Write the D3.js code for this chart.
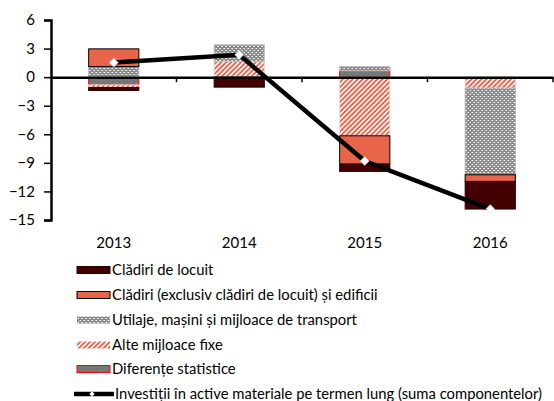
<!DOCTYPE html>
<html><head><meta charset="utf-8">
<script src="https://cdn.jsdelivr.net/npm/d3@7"></script>
<style>body{margin:0;background:#fff}svg{display:block}text{font-family:Lato,sans-serif;fill:#000}</style>
</head><body><svg id="c" width="554" height="401"></svg>
<script>
const years = ["2013","2014","2015","2016"];
const locuit = [-0.31, -1.05, -0.77, -2.9];
const cladiri = [1.86, 0, -2.97, -0.7];
const utilaje = [1.11, 1.75, 0.45, -9.1];
const alte = [-0.28, 1.64, -6.16, -1.15];
const diferente = [-0.81, 0, 0.66, 0];
const total = [1.53, 2.34, -8.81, -13.85];
const yTicks = [6,3,0,-3,-6,-9,-12,-15];
const legendLabels = ["Clădiri de locuit","Clădiri (exclusiv clădiri de locuit) și edificii","Utilaje, mașini și mijloace de transport","Alte mijloace fixe","Diferențe statistice","Investiții în active materiale pe termen lung (suma componentelor)"];

const svg = d3.select("#c");
const defs = svg.append("defs");
const pc = defs.append("pattern").attr("id","chk").attr("patternUnits","userSpaceOnUse").attr("width",4).attr("height",4);
pc.append("rect").attr("width",4).attr("height",4).attr("fill","#8a8a8a");
pc.append("rect").attr("x",0).attr("y",0).attr("width",1).attr("height",1).attr("fill","#fff");
pc.append("rect").attr("x",2).attr("y",2).attr("width",1).attr("height",1).attr("fill","#fff");
pc.append("rect").attr("x",1).attr("y",2).attr("width",1).attr("height",1).attr("fill","#d0d0d0");
pc.append("rect").attr("x",3).attr("y",0).attr("width",1).attr("height",1).attr("fill","#d0d0d0");
const ph = defs.append("pattern").attr("id","hat").attr("patternUnits","userSpaceOnUse").attr("width",3.5).attr("height",3.5).attr("patternTransform","rotate(45)");
ph.append("rect").attr("width",3.5).attr("height",3.5).attr("fill","#fff");
ph.append("rect").attr("width",1.9).attr("height",3.5).attr("fill","#E8644A");

const series = [
  {key:"locuit", vals:locuit, fill:"#420000", stroke:"#2a0000"},
  {key:"cladiri", vals:cladiri, fill:"#E8644A", stroke:"#000"},
  {key:"utilaje", vals:utilaje, fill:"url(#chk)", stroke:"#bbb"},
  {key:"alte", vals:alte, fill:"url(#hat)", stroke:"#ddd"},
  {key:"diferente", vals:diferente, fill:"#777", stroke:"#ff0000"}
];
const stackOrder = ["diferente","alte","utilaje","cladiri","locuit"];
const rows = years.map((y,i)=>{const o={year:y}; series.forEach(s=>o[s.key]=s.vals[i]); return o;});
const stacked = d3.stack().keys(stackOrder).offset(d3.stackOffsetDiverging)(rows);

const x = d3.scaleBand().domain(years).range([51,553]).paddingInner(0.6).paddingOuter(0.3);
const y = d3.scaleLinear().domain([-15,6]).range([220,20]);

stacked.forEach(layer=>{
  const s = series.find(d=>d.key===layer.key);
  svg.append("g").selectAll("rect").data(layer).join("rect")
    .filter(d=>Math.abs(d[1]-d[0])>1e-9)
    .attr("x",d=>x(d.data.year)).attr("width",x.bandwidth())
    .attr("y",d=>y(Math.max(d[0],d[1]))).attr("height",d=>Math.abs(y(d[0])-y(d[1])))
    .attr("fill",s.fill).attr("stroke",s.stroke).attr("stroke-width",1);
});

const ya = svg.append("g").attr("transform","translate(51,0)")
  .call(d3.axisLeft(y).tickValues(yTicks).tickSize(7).tickPadding(9).tickFormat(d3.format("d")));
ya.select(".domain").attr("stroke","#000").attr("stroke-width",2.5);
ya.selectAll(".tick line").attr("stroke","#000").attr("stroke-width",1.5);
ya.selectAll("text").style("font-size","15px").style("font-family","Lato,sans-serif");

const xb = d3.scaleBand().domain(years).range([51,553]);
const xa = svg.append("g").attr("transform",`translate(0,${y(0)})`)
  .call(d3.axisBottom(xb).tickSize(0).tickFormat(""));
xa.select(".domain").attr("stroke","#000").attr("stroke-width",2.5);
svg.append("g").selectAll("line").data(years).join("line")
  .attr("x1",d=>xb(d)+xb.bandwidth()).attr("x2",d=>xb(d)+xb.bandwidth())
  .attr("y1",y(0)).attr("y2",y(0)+5).attr("stroke","#000").attr("stroke-width",1.5);
svg.append("g").selectAll("text").data(years).join("text")
  .attr("x",d=>xb(d)+xb.bandwidth()/2).attr("y",248).attr("text-anchor","middle")
  .style("font-size","15px").text(d=>d);

const lg = d3.line().x((d,i)=>xb(years[i])+xb.bandwidth()/2).y(d=>y(d));
svg.append("path").datum(total).attr("d",lg).attr("fill","none").attr("stroke","#000").attr("stroke-width",4.5);
const diamond = d3.symbol().type(d3.symbolSquare).size(40);
svg.append("g").selectAll("path").data(total).join("path")
  .attr("d",diamond).attr("transform",(d,i)=>`translate(${xb(years[i])+xb.bandwidth()/2},${y(d)}) rotate(45)`)
  .attr("fill","#fff").attr("stroke","#ccc").attr("stroke-width",0.5);

const ly = [270,295,320,345,369,394];
const leg = svg.append("g");
series.forEach((s,i)=>{
  leg.append("rect").attr("x",77).attr("y",ly[i]-3.5).attr("width",33).attr("height",7)
    .attr("fill",s.fill).attr("stroke",s.key==="utilaje"||s.key==="alte"?"none":s.stroke).attr("stroke-width",1);
  leg.append("text").attr("x",112).attr("y",ly[i]).attr("dy","0.35em").style("font-size","14.8px").text(legendLabels[i]);
});
leg.append("line").attr("x1",74).attr("x2",114).attr("y1",ly[5]).attr("y2",ly[5]).attr("stroke","#000").attr("stroke-width",4.5);
leg.append("path").attr("d",d3.symbol().type(d3.symbolSquare).size(14)).attr("transform",`translate(92,${ly[5]}) rotate(45)`).attr("fill","#fff");
leg.append("text").attr("x",115).attr("y",ly[5]).attr("dy","0.35em").style("font-size","14.8px").text(legendLabels[5]);
</script></body></html>
